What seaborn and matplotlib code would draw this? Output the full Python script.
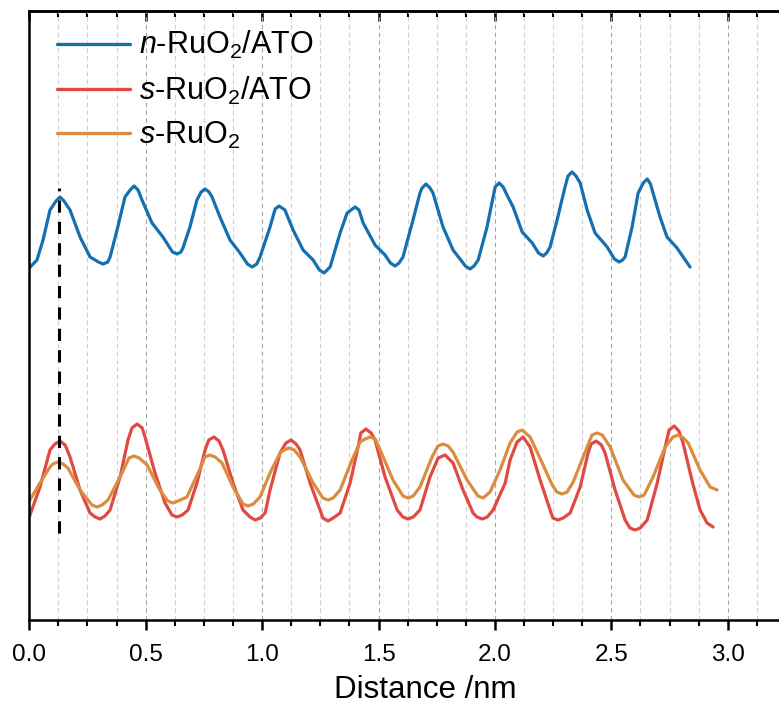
import numpy as np
import pandas as pd
import matplotlib
matplotlib.use("Agg")
import matplotlib.pyplot as plt
from matplotlib.ticker import MultipleLocator, NullLocator, FormatStrFormatter
import seaborn as sns

# Line-profile intensity (a.u.) versus distance (nm)
x_n_ato = [0.000, 0.033, 0.059, 0.089, 0.115, 0.132, 0.149, 0.175, 0.218, 0.261,
           0.297, 0.317, 0.337, 0.347, 0.377, 0.411, 0.433, 0.450, 0.467, 0.484,
           0.527, 0.574, 0.615, 0.635, 0.651, 0.660, 0.690, 0.720, 0.738, 0.755,
           0.772, 0.785, 0.819, 0.862, 0.905, 0.937, 0.957, 0.977, 0.991, 1.034,
           1.056, 1.073, 1.098, 1.133, 1.176, 1.219, 1.246, 1.266, 1.292, 1.335,
           1.365, 1.382, 1.399, 1.416, 1.434, 1.485, 1.528, 1.551, 1.571, 1.588,
           1.605, 1.648, 1.678, 1.687, 1.704, 1.721, 1.734, 1.777, 1.820, 1.873,
           1.893, 1.910, 1.928, 1.966, 1.992, 2.001, 2.018, 2.035, 2.056, 2.078,
           2.117, 2.160, 2.187, 2.207, 2.222, 2.237, 2.267, 2.301, 2.314, 2.331,
           2.348, 2.366, 2.396, 2.430, 2.482, 2.513, 2.533, 2.548, 2.559, 2.589,
           2.615, 2.637, 2.654, 2.668, 2.679, 2.709, 2.739, 2.782, 2.838]
y_n_ato = [352, 360, 380, 410, 419, 423, 419, 410, 383, 363,
           358, 356, 358, 363, 390, 423, 430, 434, 430, 420,
           397, 383, 368, 366, 368, 372, 393, 420, 428, 431,
           428, 423, 403, 380, 367, 356, 353, 356, 363, 393,
           411, 414, 410, 390, 370, 360, 350, 347, 353, 387,
           407, 410, 413, 410, 397, 375, 365, 357, 354, 357,
           363, 400, 427, 432, 436, 432, 427, 393, 370, 354,
           351, 354, 360, 393, 423, 433, 437, 433, 423, 413,
           388, 377, 367, 364, 367, 373, 400, 433, 444, 448,
           444, 437, 410, 387, 373, 361, 358, 360, 363, 393,
           427, 437, 441, 436, 427, 403, 383, 372, 353]

x_s_ato = [0.000, 0.046, 0.089, 0.110, 0.132, 0.154, 0.175, 0.218, 0.261, 0.283,
           0.304, 0.325, 0.347, 0.390, 0.424, 0.441, 0.463, 0.485, 0.497, 0.540,
           0.583, 0.613, 0.635, 0.657, 0.682, 0.720, 0.755, 0.771, 0.793, 0.815,
           0.832, 0.875, 0.918, 0.948, 0.970, 0.992, 1.013, 1.034, 1.077, 1.102,
           1.124, 1.146, 1.163, 1.206, 1.249, 1.261, 1.283, 1.305, 1.335, 1.378,
           1.412, 1.424, 1.446, 1.468, 1.485, 1.528, 1.580, 1.605, 1.627, 1.649,
           1.678, 1.721, 1.756, 1.786, 1.820, 1.863, 1.906, 1.923, 1.945, 1.967,
           1.992, 2.044, 2.065, 2.095, 2.121, 2.151, 2.194, 2.237, 2.249, 2.271,
           2.293, 2.323, 2.366, 2.400, 2.413, 2.435, 2.457, 2.473, 2.516, 2.559,
           2.580, 2.602, 2.624, 2.654, 2.697, 2.731, 2.748, 2.770, 2.790, 2.808,
           2.849, 2.881, 2.911, 2.937]
y_s_ato = [103, 133, 170, 176, 179, 175, 163, 130, 107, 103,
           101, 104, 110, 143, 180, 192, 196, 192, 183, 147,
           117, 105, 103, 105, 110, 137, 170, 180, 183, 179,
           170, 137, 110, 103, 100, 102, 107, 130, 167, 177,
           180, 176, 170, 137, 110, 102, 99, 102, 107, 137,
           173, 187, 191, 187, 180, 143, 110, 103, 101, 103,
           110, 143, 162, 165, 157, 130, 107, 103, 101, 103,
           110, 137, 160, 178, 183, 173, 140, 110, 102, 100,
           102, 107, 133, 167, 176, 179, 175, 167, 130, 100,
           92, 90, 92, 100, 137, 173, 190, 194, 189, 177,
           137, 110, 97, 93]

x_s = [0.000, 0.046, 0.089, 0.101, 0.123, 0.145, 0.166, 0.218, 0.269, 0.291,
       0.313, 0.338, 0.390, 0.428, 0.450, 0.472, 0.506, 0.561, 0.595, 0.617,
       0.639, 0.677, 0.725, 0.754, 0.776, 0.798, 0.828, 0.875, 0.918, 0.940,
       0.962, 0.991, 1.034, 1.077, 1.094, 1.116, 1.138, 1.163, 1.219, 1.261,
       1.283, 1.305, 1.335, 1.386, 1.421, 1.442, 1.464, 1.486, 1.507, 1.562,
       1.605, 1.627, 1.649, 1.678, 1.730, 1.755, 1.777, 1.799, 1.820, 1.880,
       1.927, 1.949, 1.979, 2.022, 2.065, 2.095, 2.117, 2.151, 2.203, 2.246,
       2.266, 2.288, 2.310, 2.336, 2.396, 2.417, 2.439, 2.461, 2.495, 2.550,
       2.597, 2.619, 2.641, 2.679, 2.731, 2.765, 2.787, 2.809, 2.830, 2.881,
       2.924, 2.954]
y_s = [119, 137, 153, 156, 158, 156, 152, 130, 115, 113,
       115, 120, 143, 162, 164, 162, 155, 130, 119, 117,
       119, 123, 147, 163, 165, 163, 157, 133, 116, 114,
       116, 123, 147, 167, 170, 172, 170, 163, 137, 122,
       120, 122, 130, 160, 178, 181, 183, 181, 170, 140,
       124, 122, 124, 133, 163, 174, 176, 174, 168, 140,
       124, 122, 128, 150, 177, 188, 190, 183, 157, 135,
       128, 126, 128, 138, 173, 185, 187, 185, 173, 140,
       125, 123, 125, 143, 173, 183, 185, 182, 177, 150,
       133, 130]

labels = [r"$\mathit{n}$-RuO$_2$/ATO", r"$\mathit{s}$-RuO$_2$/ATO", r"$\mathit{s}$-RuO$_2$"]
colors = ["#1570b0", "#e04a42", "#d98d40"]

# marker line through the first peak
ref_x = 0.128
ref_y = (87, 432)

sns.set_style("ticks")
plt.rcParams["font.family"] = ["Liberation Sans", "DejaVu Sans"]
plt.rcParams["mathtext.fontset"] = "custom"
plt.rcParams["mathtext.rm"] = "Liberation Sans"
plt.rcParams["mathtext.it"] = "Liberation Sans:italic"
plt.rcParams["mathtext.bf"] = "Liberation Sans:bold"
plt.rcParams["text.color"] = "black"
plt.rcParams["axes.labelcolor"] = "black"
plt.rcParams["xtick.color"] = "black"

fig = plt.figure(figsize=(7.79, 7.04), dpi=100)
ax = fig.add_axes([0.0376, 0.1193, 1 - 0.0376, 0.9844 - 0.1193])

series = [(x_n_ato, y_n_ato), (x_s_ato, y_s_ato), (x_s, y_s)]
for (xs, ys), lab, col in zip(series, labels, colors):
    df = pd.DataFrame({"Distance": xs, "Intensity": ys})
    sns.lineplot(data=df, x="Distance", y="Intensity", ax=ax, color=col,
                 linewidth=2.3, label=lab, sort=True, estimator=None,
                 solid_joinstyle="round", solid_capstyle="round")

ax.plot([ref_x, ref_x], ref_y, color="black", lw=2.2, ls=(0, (4, 3)))

ax.set_xlim(0, 3.22)
ax.set_ylim(0, 609)
ax.xaxis.set_major_locator(MultipleLocator(0.5))
ax.xaxis.set_minor_locator(MultipleLocator(0.125))
ax.xaxis.set_major_formatter(FormatStrFormatter("%.1f"))
ax.yaxis.set_major_locator(NullLocator())
ax.yaxis.set_minor_locator(NullLocator())
ax.set_ylabel("")
ax.set_xlabel("Distance /nm", fontsize=22.5, color="black")
ax.xaxis.set_label_coords(0.528, -0.09)

ax.grid(True, axis="x", which="major", ls=(0, (4, 3)), color="#a8a8a8", lw=0.8)
ax.grid(True, axis="x", which="minor", ls=(0, (4, 3)), color="#d0d0d0", lw=0.8)
ax.set_axisbelow(True)

ax.tick_params(axis="x", which="major", direction="out", length=7, width=1.8,
               labelsize=17.5, pad=10, colors="black")
ax.tick_params(axis="x", which="minor", direction="out", length=4.5, width=1.5,
               colors="black")

for side in ["left", "bottom", "top"]:
    ax.spines[side].set_linewidth(1.8)
    ax.spines[side].set_color("black")
ax.spines["right"].set_visible(False)

top = ax.secondary_xaxis("top")
top.xaxis.set_major_locator(MultipleLocator(0.5))
top.xaxis.set_minor_locator(MultipleLocator(0.125))
top.tick_params(axis="x", which="major", direction="in", length=7, width=1.8,
                labeltop=False, colors="black")
top.tick_params(axis="x", which="minor", direction="in", length=4.5, width=1.5,
                colors="black")
top.spines["top"].set_linewidth(1.8)
top.spines["top"].set_color("black")

leg = ax.legend(loc="upper left", bbox_to_anchor=(0.02, 0.99), frameon=False,
                fontsize=22, handlelength=2.4, handletextpad=0.3,
                labelspacing=0.43, borderaxespad=0.0, borderpad=0.4)
for text in leg.get_texts():
    text.set_color("black")
for line in leg.get_lines():
    line.set_linewidth(2.4)

fig.savefig("out.png", dpi=100)
